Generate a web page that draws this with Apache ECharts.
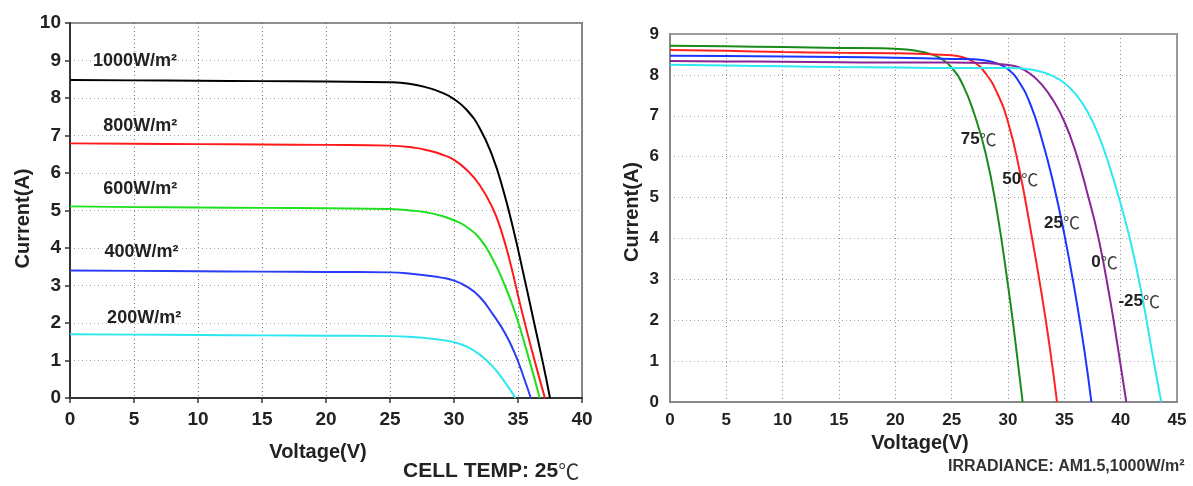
<!DOCTYPE html>
<html>
<head>
<meta charset="utf-8">
<script src="https://cdn.jsdelivr.net/npm/echarts@6/dist/echarts.min.js"></script>
<style>
html,body{margin:0;padding:0;background:#fff;}
#c{width:1193px;height:486px;}
</style>
</head>
<body>
<div id="c"></div>
<script>
// ---------- LEFT: irradiance curves (cell temp 25°C) ----------
var irrNames = ['1000W/m²', '800W/m²', '600W/m²', '400W/m²', '200W/m²'];
var v1000 = [0, 5, 10, 15, 20, 25, 26.5, 28, 29, 30, 31, 32, 33, 33.8, 34.6, 35.4, 36.2, 37.0, 37.5];
var i1000 = [8.48, 8.47, 8.46, 8.45, 8.44, 8.42, 8.38, 8.27, 8.15, 7.97, 7.68, 7.2, 6.45, 5.6, 4.55, 3.35, 2.1, 0.85, 0];
var v800 = [0, 5, 10, 15, 20, 25, 27, 28, 29, 30, 31, 32, 33, 33.7, 34.4, 35.2, 36.1, 37.1];
var i800 = [6.79, 6.78, 6.77, 6.76, 6.75, 6.73, 6.67, 6.6, 6.5, 6.35, 6.08, 5.68, 5.08, 4.45, 3.6, 2.45, 1.25, 0];
var v600 = [0, 5, 10, 15, 20, 25, 27, 28, 29, 30, 31, 32, 33, 34, 34.8, 35.6, 36.7];
var i600 = [5.11, 5.09, 5.08, 5.07, 5.06, 5.04, 4.99, 4.94, 4.86, 4.74, 4.56, 4.26, 3.72, 2.98, 2.25, 1.35, 0];
var v400 = [0, 5, 10, 15, 20, 25, 27, 28, 29, 30, 31, 32, 33, 34, 34.8, 35.5, 36.0];
var i400 = [3.40, 3.39, 3.38, 3.37, 3.36, 3.35, 3.30, 3.26, 3.21, 3.13, 2.97, 2.7, 2.25, 1.72, 1.15, 0.5, 0];
var v200 = [0, 5, 10, 15, 20, 25, 27, 28, 29, 30, 31, 32, 33, 34, 34.8];
var i200 = [1.70, 1.69, 1.68, 1.67, 1.66, 1.65, 1.62, 1.59, 1.55, 1.49, 1.37, 1.16, 0.85, 0.41, 0];
// label anchors (voltage, current) for the irradiance names
var irrLabelV = [1.8, 2.6, 2.6, 2.7, 2.9];
var irrLabelI = [8.98, 7.24, 5.58, 3.90, 2.12];

// ---------- RIGHT: temperature curves (AM1.5, 1000W/m²) ----------
var tempNames = ['75', '50', '25', '0', '-25'];
var vT75 = [0, 5, 10, 15, 18.6, 21, 22, 23, 24, 25, 26, 27, 28, 29, 30, 30.6, 31.3];
var iT75 = [8.71, 8.70, 8.68, 8.66, 8.65, 8.62, 8.58, 8.52, 8.41, 8.18, 7.75, 7.05, 6.1, 4.7, 2.85, 1.6, 0];
var vT50 = [0, 5, 10, 15, 20, 25, 26, 27, 28, 29, 30, 31, 32, 33, 33.7, 34.35];
var iT50 = [8.61, 8.59, 8.56, 8.54, 8.53, 8.48, 8.43, 8.31, 8.04, 7.58, 6.85, 5.7, 4.22, 2.62, 1.35, 0];
var vT25 = [0, 5, 10, 15, 20, 25, 27, 28, 29, 30, 31, 32, 33, 34, 35, 36, 36.8, 37.4];
var iT25 = [8.47, 8.46, 8.45, 8.44, 8.42, 8.39, 8.38, 8.35, 8.28, 8.14, 7.82, 7.27, 6.43, 5.38, 4.1, 2.6, 1.22, 0];
var vT0 = [0, 5, 10, 15, 20, 25, 28, 29, 30, 31, 32, 33, 34, 35, 36, 37, 38, 39, 39.8, 40.5];
var iT0 = [8.34, 8.33, 8.32, 8.31, 8.30, 8.30, 8.29, 8.27, 8.24, 8.18, 8.02, 7.76, 7.38, 6.86, 6.12, 5.15, 4.05, 2.6, 1.25, 0];
var vTm25 = [0, 5, 10, 15, 20, 25, 30, 31, 32, 33, 34, 35, 36, 37, 38, 39, 40, 41, 42, 42.8, 43.6];
var iTm25 = [8.25, 8.23, 8.21, 8.19, 8.18, 8.17, 8.17, 8.16, 8.13, 8.07, 7.97, 7.8, 7.53, 7.13, 6.55, 5.77, 4.85, 3.78, 2.45, 1.2, 0];
var tempLabelV = [25.8, 29.5, 33.2, 37.4, 39.8];
var tempLabelI = [6.43, 5.44, 4.38, 3.42, 2.46];

var leftXTicks = [0, 5, 10, 15, 20, 25, 30, 35, 40];
var leftYTicks = [0, 1, 2, 3, 4, 5, 6, 7, 8, 9, 10];
var rightXTicks = [0, 5, 10, 15, 20, 25, 30, 35, 40, 45];
var rightYTicks = [0, 1, 2, 3, 4, 5, 6, 7, 8, 9];

// ---------- build ----------
function pairs(v, i) { return v.map(function (x, k) { return [x, i[k]]; }); }
var FONT = '"Liberation Sans", Arial, sans-serif';

var leftColors = ['#000000', '#ff1a1a', '#1ee01e', '#2b3cf5', '#2ee6f0'];
var rightColors = ['#1a8a1a', '#ff2222', '#1a35ff', '#8a2596', '#2ee8f2'];
var leftV = [v1000, v800, v600, v400, v200];
var leftI = [i1000, i800, i600, i400, i200];
var rightV = [vT75, vT50, vT25, vT0, vTm25];
var rightI = [iT75, iT50, iT25, iT0, iTm25];

var series = [];
leftV.forEach(function (v, k) {
  series.push({
    type: 'line', xAxisIndex: 0, yAxisIndex: 0, name: irrNames[k],
    data: pairs(v, leftI[k]), showSymbol: false, smooth: 0.5,
    lineStyle: { color: leftColors[k], width: 2 }, silent: true,
    markPoint: {
      symbol: 'circle', symbolSize: 0, silent: true,
      data: [{ coord: [irrLabelV[k], irrLabelI[k]] }],
      label: { show: true, position: 'right', distance: 0, formatter: irrNames[k],
        color: '#222', fontFamily: FONT, fontWeight: 'bold', fontSize: 18 }
    }
  });
});
rightV.forEach(function (v, k) {
  series.push({
    type: 'line', xAxisIndex: 1, yAxisIndex: 1, name: tempNames[k] + '℃',
    data: pairs(v, rightI[k]), showSymbol: false, smooth: 0.5,
    lineStyle: { color: rightColors[k], width: 2 }, silent: true,
    markPoint: {
      symbol: 'circle', symbolSize: 0, silent: true,
      data: [{ coord: [tempLabelV[k], tempLabelI[k]] }],
      label: { show: true, position: 'right', distance: 0,
        formatter: '{n|' + tempNames[k] + '}{c|℃}',
        rich: {
          n: { color: '#222', fontFamily: FONT, fontWeight: 'bold', fontSize: 17 },
          c: { color: '#444', fontFamily: '"Noto Sans CJK SC", sans-serif', fontWeight: 'normal', fontSize: 17 }
        } }
    }
  });
});

function splitStyle(c) { return { show: true, lineStyle: { color: c, type: [1, 3], width: 1 } }; }

var option = {
  animation: false,
  backgroundColor: '#ffffff',
  grid: [
    { left: 70, top: 23, width: 512, height: 375, show: true, borderColor: '#8a8a8a', borderWidth: 2, backgroundColor: 'transparent' },
    { left: 670, top: 34, width: 507, height: 368, show: true, borderColor: '#9a9a9a', borderWidth: 2, backgroundColor: 'transparent' }
  ],
  xAxis: [
    { type: 'value', gridIndex: 0, min: leftXTicks[0], max: leftXTicks[leftXTicks.length - 1], interval: 5,
      name: 'Voltage(V)', nameLocation: 'middle', nameGap: 44,
      nameTextStyle: { fontFamily: FONT, fontWeight: 'bold', fontSize: 20, color: '#222', padding: [0, 16, 0, 0] },
      axisLine: { show: true, lineStyle: { color: '#333', width: 2 } },
      axisTick: { show: true, length: 5, lineStyle: { color: '#333', width: 1.5 } },
      axisLabel: { margin: 12, fontFamily: FONT, fontWeight: 'bold', fontSize: 19, color: '#222' },
      splitLine: splitStyle('#777') },
    { type: 'value', gridIndex: 1, min: rightXTicks[0], max: rightXTicks[rightXTicks.length - 1], interval: 5,
      name: 'Voltage(V)', nameLocation: 'middle', nameGap: 31,
      nameTextStyle: { fontFamily: FONT, fontWeight: 'bold', fontSize: 20, color: '#222', padding: [0, 7, 0, 0] },
      axisLine: { show: true, lineStyle: { color: '#888', width: 2 } },
      axisTick: { show: false },
      axisLabel: { margin: 10, fontFamily: FONT, fontWeight: 'bold', fontSize: 17, color: '#222' },
      splitLine: splitStyle('#888') }
  ],
  yAxis: [
    { type: 'value', gridIndex: 0, min: leftYTicks[0], max: leftYTicks[leftYTicks.length - 1], interval: 1,
      name: 'Current(A)', nameLocation: 'middle', nameGap: 37,
      nameTextStyle: { fontFamily: FONT, fontWeight: 'bold', fontSize: 20, color: '#222', padding: [0, 16, 0, 0] },
      axisLine: { show: true, lineStyle: { color: '#333', width: 2 } },
      axisTick: { show: true, length: 5, lineStyle: { color: '#333', width: 1.5 } },
      axisLabel: { margin: 9, fontFamily: FONT, fontWeight: 'bold', fontSize: 19, color: '#222' },
      splitLine: splitStyle('#aaa') },
    { type: 'value', gridIndex: 1, min: rightYTicks[0], max: rightYTicks[rightYTicks.length - 1], interval: 1,
      name: 'Current(A)', nameLocation: 'middle', nameGap: 28,
      nameTextStyle: { fontFamily: FONT, fontWeight: 'bold', fontSize: 20, color: '#222', padding: [0, 0, 0, 12] },
      axisLine: { show: true, lineStyle: { color: '#888', width: 2 } },
      axisTick: { show: false },
      axisLabel: { margin: 11, fontFamily: FONT, fontWeight: 'bold', fontSize: 17, color: '#222' },
      splitLine: splitStyle('#aaa') }
  ],
  graphic: [
    { type: 'text', left: 403, top: 461, silent: true,
      style: { text: '{b|CELL TEMP: 25}{c|℃}', rich: {
        b: { fontFamily: FONT, fontWeight: 'bold', fontSize: 21, fill: '#222' },
        c: { fontFamily: '"Noto Sans CJK SC", sans-serif', fontWeight: 'normal', fontSize: 21, fill: '#333' } } } },
    { type: 'text', left: 948, top: 459, silent: true,
      style: { text: 'IRRADIANCE: AM1.5,1000W/m²', fontFamily: FONT, fontWeight: 'bold', fontSize: 16, fill: '#333' } }
  ],
  series: series
};

var chart = echarts.init(document.getElementById('c'), null, { renderer: 'canvas' });
chart.setOption(option);
</script>
</body>
</html>
